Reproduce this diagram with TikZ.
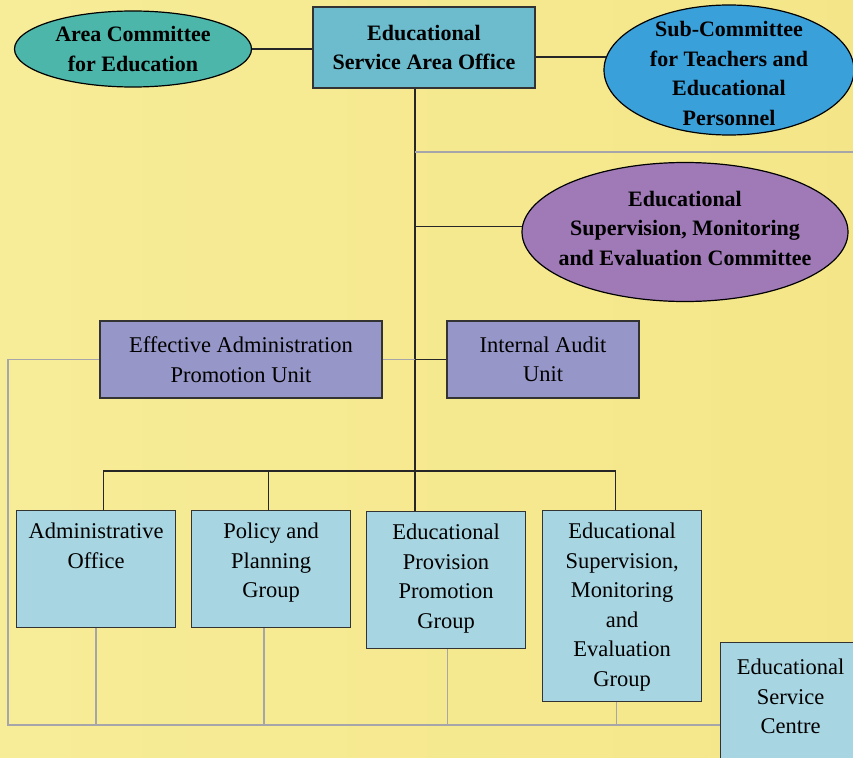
\documentclass[tikz,border=0pt]{standalone}
\usepackage{fontspec}
\setmainfont{Liberation Serif}
\usetikzlibrary{shapes.geometric}

\definecolor{paperlight}{RGB}{247,236,152}
\definecolor{papermid}{RGB}{242,225,122}
\definecolor{paperright}{RGB}{244,230,136}
\definecolor{areateal}{RGB}{77,182,170}
\definecolor{officeblue}{RGB}{108,188,206}
\definecolor{subblue}{RGB}{58,160,218}
\definecolor{evalpurple}{RGB}{160,122,182}
\definecolor{unitviolet}{RGB}{150,150,200}
\definecolor{groupblue}{RGB}{168,213,226}
\definecolor{feedgray}{RGB}{165,165,170}

\begin{document}
\begin{tikzpicture}[
	x=1pt, y=-1pt,
	board/.style={ellipse, draw=black, line width=1.2pt, inner xsep=-22pt, inner ysep=-16pt,
		align=center, font=\fontsize{22}{29.5}\selectfont\bfseries},
	office/.style={rectangle, draw=black!80, line width=1.2pt, inner sep=0pt, align=center},
	unit/.style={office, fill=unitviolet, font=\fontsize{22.5}{29.5}\selectfont},
	group/.style={office, fill=groupblue, anchor=north west, minimum width=159pt},
	grouptext/.style={anchor=north, align=center, inner sep=2pt, font=\fontsize{22.5}{29.5}\selectfont},
	link/.style={draw=black!85, line width=1.2pt},
	feed/.style={draw=feedgray, line width=1.3pt}
	]
	\useasboundingbox (0,0) rectangle (853,757);
	\clip (0,0) rectangle (853,757);
	\shade[left color=paperlight, middle color=papermid, right color=paperright] (0,0) rectangle (853,757);

	% top row
	\node [board, fill=areateal, minimum width=237pt, minimum height=76pt] (area) at (133,49) {Area Committee\\for Education};
	\node [office, fill=officeblue, minimum width=222pt, minimum height=81pt,
		font=\fontsize{22}{28.5}\selectfont\bfseries] (esao) at (424,47.5) {Educational\\Service Area Office};
	\node [board, fill=subblue, minimum width=250pt, minimum height=130pt] (subc) at (729,70) {\rule{0pt}{22pt}Sub-Committee\\for Teachers and\\Educational\\Personnel};
	\node [board, fill=evalpurple, minimum width=326pt, minimum height=139pt, text depth=8pt] (esme) at (685,232) {Educational\\Supervision, Monitoring\\and Evaluation Committee};

	% units
	\node [unit, minimum width=282pt, minimum height=77pt] (eapu) at (241,359.5) {Effective Administration\\Promotion Unit};
	\node [unit, minimum width=192pt, minimum height=77pt] (audit) at (543,359.5) {Internal Audit\\Unit};

	% groups
	\node [group, minimum height=117pt] (admin) at (16,510) {};
	\node [grouptext] (admin-txt) at ([yshift=-11pt]admin.north) {Administrative\\Office};
	\node [group, minimum height=117pt] (policy) at (191,510) {};
	\node [grouptext] (policy-txt) at ([yshift=-11pt]policy.north) {Policy and\\Planning\\Group};
	\node [group, minimum height=137pt] (provision) at (366,511) {};
	\node [grouptext] (provision-txt) at ([yshift=-11pt]provision.north) {Educational\\Provision\\Promotion\\Group};
	\node [group, minimum height=191pt] (esmeg) at (542,510) {};
	\node [grouptext] (esmeg-txt) at ([yshift=-11pt]esmeg.north) {Educational\\Supervision,\\Monitoring\\and\\Evaluation\\Group};
	\node [group, minimum width=140pt, minimum height=130pt] (esc) at (720,642) {};
	\node [grouptext] (esc-txt) at ([yshift=-15pt]esc.north) {Educational\\Service\\Centre};

	\coordinate (bus) at (415,471);
	\coordinate (loop) at (8,725);
	\coordinate (edge) at (853,152);

	% black lines
	\draw [link] (area.east) -- (area.east -| esao.west);
	\draw [link] (subc.174) -- (subc.174 -| esao.east);
	\draw [link] (esao.south -| bus) -- (bus) -- (provision.north -| bus);
	\draw [link] (esme.178) -- (esme.178 -| bus);
	\draw [link] (audit.west) -- (audit.west -| bus);
	\draw [link] ([xshift=7pt]admin.north) |- (bus) -| ([xshift=-6.5pt]esmeg.north);
	\draw [link] ([xshift=-2.5pt]policy.north) -- ([xshift=-2.5pt]policy.north |- bus);

	% grey lines
	\draw [feed] (edge -| bus) -- (edge);
	\draw [feed] (eapu.east) -- (eapu.east -| bus);
	\draw [feed] (eapu.west) -| (loop) -- (loop -| esc.west);
	\draw [feed] (admin.south) -- (admin.south |- loop);
	\draw [feed] ([xshift=-7pt]policy.south) -- ([xshift=-7pt]policy.south |- loop);
	\draw [feed] ([xshift=1.5pt]provision.south) -- ([xshift=1.5pt]provision.south |- loop);
	\draw [feed] ([xshift=-5.5pt]esmeg.south) -- ([xshift=-5.5pt]esmeg.south |- loop);
\end{tikzpicture}
\end{document}
